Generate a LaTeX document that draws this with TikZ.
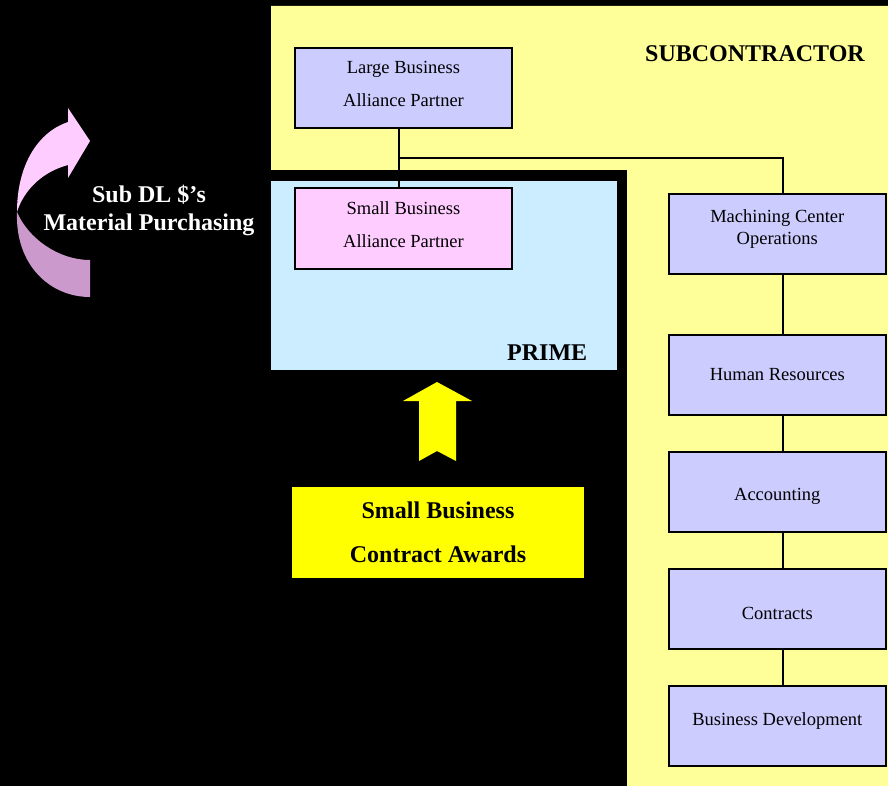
\documentclass[tikz,border=0pt]{standalone}
\usepackage{fontspec}
\setmainfont{Liberation Serif}
\usetikzlibrary{positioning}

\definecolor{subyellow}{HTML}{FFFF99}
\definecolor{lavender}{HTML}{CCCCFF}
\definecolor{pinkbox}{HTML}{FFCCFF}
\definecolor{primeblue}{HTML}{CCECFF}
\definecolor{awardyellow}{HTML}{FFFF00}
\definecolor{arrowmauve}{HTML}{CC99CC}

\begin{document}
\begin{tikzpicture}[x=1pt, y=-1pt, node distance=117pt,
    unit/.style={draw, line width=2pt, fill=lavender, minimum width=217pt, minimum height=80pt,
        inner sep=0pt, align=center, font=\fontsize{18.5}{33}\selectfont},
    heading/.style={inner sep=0pt, font=\bfseries\fontsize{24}{28}\selectfont},
    link/.style={line width=1.5pt}]
    % page, subcontractor and prime areas
    \fill[black] (0,0) rectangle (888,786);
    \useasboundingbox (0,0) rectangle (888,786);
    \fill[subyellow] (271,6) -- (888,6) -- (888,786) -- (627,786) -- (627,170) -- (271,170) -- cycle;
    \fill[primeblue] (271,181) rectangle (617,370);

    \node[heading, anchor=base west] (subtitle) at (645,61.7) {SUBCONTRACTOR};
    \node[heading, anchor=base west] (primetitle) at (507,360) {PRIME};

    \node[unit, text depth=8pt] (lbap) at (403.5,88) {Large Business\\Alliance Partner};
    \node[unit, text depth=8pt, fill=pinkbox] (sbap) at (403.5,228.5) {Small Business\\Alliance Partner};

    \node[unit, text depth=14pt, font=\fontsize{18.5}{21.5}\selectfont] (mco) at (777.3,234) {Machining Center\\Operations};
    \node[unit, below of=mco, yshift=-24pt] (hr) {Human Resources};
    \node[unit, below of=hr, text height=16pt, text depth=0pt] (acc) {Accounting};
    \node[unit, below of=acc, text height=20pt, text depth=0pt] (ctr) {Contracts};
    \node[unit, below of=ctr, text height=6pt, text depth=8pt] (bd) {Business Development};

    \coordinate (tee) at (399,158);
    \coordinate (spine) at (783,0);
    \draw[link] (lbap.south -| tee) -- (sbap.north -| tee);
    \draw[link] (tee) -| (mco.north -| spine);
    \foreach \a/\b in {mco/hr, hr/acc, acc/ctr, ctr/bd}
        \draw[link] (\a.south -| spine) -- (\b.north -| spine);

    % awards and the arrow up to prime
    \node[fill=awardyellow, minimum width=292pt, minimum height=91pt, align=center,
        font=\bfseries\fontsize{24}{44}\selectfont] (awards) at (438,532.5) {Small Business\\Contract Awards};
    \fill[awardyellow] (437,382) -- (472,401) -- (456,401) -- (456,461) -- (437,451)
        -- (419,461) -- (419,401) -- (403,401) -- cycle;

    % curved arrow
    \fill[arrowmauve] (17,212) .. controls (15,265) and (50,297) .. (90,297) -- (90,260)
        .. controls (58,260) and (28,238) .. (17,212) -- cycle;
    \fill[pinkbox] (17,212) .. controls (17,165) and (38,132) .. (68,122) -- (68,108) -- (90,141)
        -- (68,178) -- (68,165) .. controls (42,172) and (24,190) .. (17,212) -- cycle;
    \node[heading, text=white, align=center] (subdl) at (149,210.5) {Sub DL \$'s\\Material Purchasing};
\end{tikzpicture}
\end{document}
